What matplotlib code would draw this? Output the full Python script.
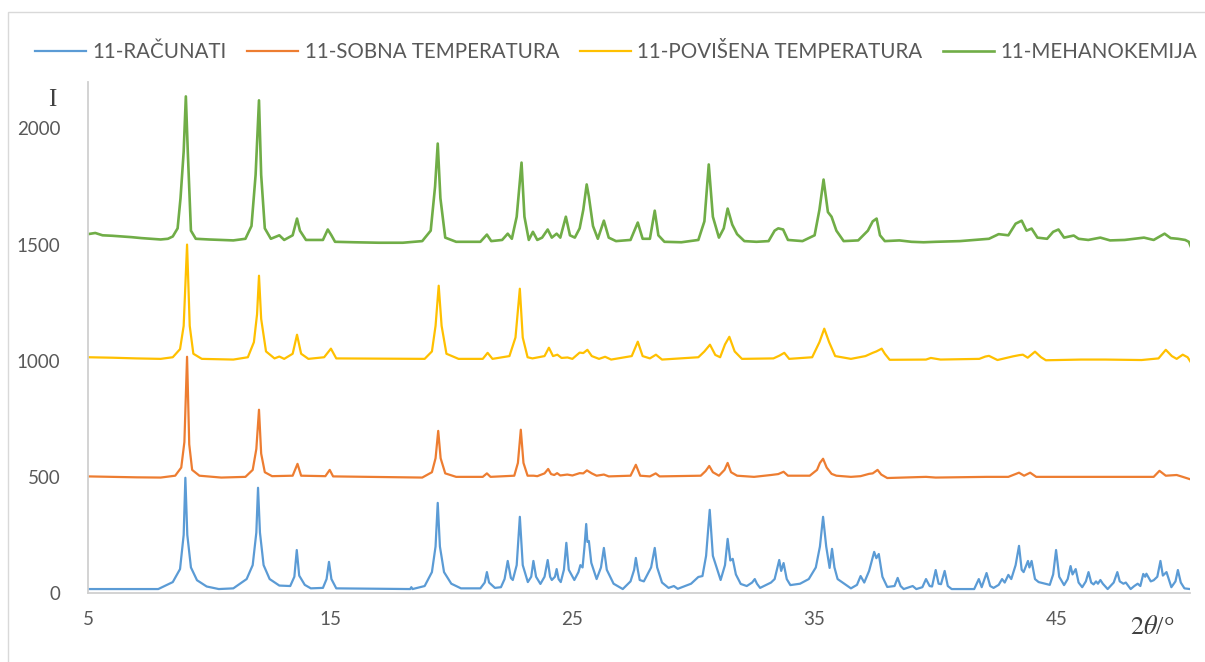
import matplotlib
matplotlib.use("Agg")
import matplotlib.pyplot as plt
from matplotlib.patches import Rectangle

plt.rcParams['font.family'] = ['Lato', 'DejaVu Sans']

# ---- data (2theta in degrees, intensity) ----
RAC_X = [5.0, 7.9, 8.5, 8.8, 8.95, 9.02, 9.1, 9.25, 9.5, 9.9, 10.4, 11.0, 11.55, 11.8, 11.95,
         12.02, 12.1, 12.25, 12.5, 12.9, 13.35, 13.52, 13.62, 13.72, 13.95, 14.2, 14.7, 14.85,
         14.95, 15.05, 15.25, 18.3, 18.35, 18.4, 18.9, 19.2, 19.35, 19.44, 19.53, 19.7, 20.0,
         20.4, 21.2, 21.38, 21.47, 21.56, 21.8, 22.05, 22.2, 22.33, 22.46, 22.54, 22.7, 22.83,
         22.95, 23.16, 23.3, 23.39, 23.5, 23.68, 23.85, 23.98, 24.08, 24.15, 24.28, 24.35, 24.43,
         24.52, 24.65, 24.75, 24.85, 25.08, 25.25, 25.33, 25.42, 25.5, 25.57, 25.62, 25.68, 25.78,
         26.0, 26.18, 26.3, 26.42, 26.7, 27.08, 27.4, 27.55, 27.62, 27.7, 27.78, 27.95, 28.25,
         28.4, 28.5, 28.7, 28.97, 29.19, 29.35, 29.9, 30.2, 30.37, 30.52, 30.67, 30.8, 31.12,
         31.3, 31.41, 31.52, 31.62, 31.75, 31.95, 32.2, 32.42, 32.53, 32.62, 32.75, 33.2, 33.35,
         33.54, 33.62, 33.72, 33.85, 34.0, 34.4, 34.76, 35.05, 35.22, 35.35, 35.48, 35.62, 35.72,
         35.82, 35.95, 36.5, 36.75, 36.9, 37.05, 37.25, 37.46, 37.55, 37.65, 37.8, 38.0, 38.3,
         38.43, 38.55, 38.68, 39.05, 39.2, 39.45, 39.6, 39.75, 39.85, 40.0, 40.12, 40.22, 40.37,
         40.5, 40.66, 41.59, 41.78, 41.9, 42.1, 42.25, 42.39, 42.6, 42.74, 42.85, 43.0, 43.12,
         43.3, 43.44, 43.55, 43.63, 43.81, 43.87, 43.96, 44.1, 44.25, 44.71, 44.85, 44.97, 45.1,
         45.3, 45.45, 45.57, 45.65, 45.78, 45.9, 46.05, 46.2, 46.31, 46.42, 46.52, 46.62, 46.7,
         46.8, 46.9, 47.1, 47.35, 47.5, 47.6, 47.75, 47.85, 48.05, 48.2, 48.34, 48.45, 48.57,
         48.65, 48.7, 48.88, 49.0, 49.15, 49.28, 49.38, 49.53, 49.73, 49.9, 50.0, 50.12, 50.27,
         50.5]
RAC_Y = [17, 17, 47, 103, 250, 496, 250, 110, 55, 28, 17, 20, 60, 120, 260,
         453, 260, 120, 60, 32, 30, 70, 185, 75, 35, 20, 22, 60,
         134, 60, 20, 17, 25, 17, 30, 90, 200, 388, 200, 90, 40,
         20, 20, 45, 90, 45, 22, 25, 60, 138, 65, 56, 120, 328,
         120, 47, 70, 138, 70, 39, 70, 142, 70, 56, 70, 103, 60,
         47, 100, 216, 100, 56, 90, 120, 110, 200, 297, 220, 224, 130,
         60, 110, 194, 100, 40, 17, 50, 100, 151, 100, 56, 50, 110,
         194, 110, 45, 22, 30, 18, 40, 69, 73, 160, 358, 160, 56,
         120, 233, 140, 147, 80, 39, 30, 45, 60, 40, 22, 45, 60,
         142, 95, 129, 60, 34, 40, 60, 110, 200, 328, 200, 108, 190,
         110, 60, 20, 35, 73, 45, 95, 177, 150, 168, 70, 26, 30,
         65, 30, 17, 30, 17, 25, 60, 30, 28, 99, 40, 38, 95,
         30, 17, 17, 60, 25, 86, 30, 22, 35, 60, 45, 78, 60,
         120, 203, 100, 90, 138, 110, 138, 60, 47, 35, 80, 185, 70,
         34, 60, 116, 80, 103, 45, 25, 50, 90, 45, 37, 50, 40,
         56, 40, 17, 45, 90, 50, 40, 45, 17, 30, 40, 30, 82,
         70, 83, 50, 55, 70, 138, 75, 90, 25, 50, 99, 45, 20,
         17]

SOB_X = [5.0, 6.0, 7.0, 8.0, 8.6, 8.85, 8.98, 9.09, 9.18, 9.3, 9.6, 10.5, 11.5, 11.8, 11.95,
         12.06, 12.15, 12.3, 12.6, 13.45, 13.65, 13.8, 14.8, 14.98, 15.12, 18.8, 19.2, 19.35,
         19.46, 19.56, 19.75, 20.2, 21.3, 21.47, 21.62, 22.6, 22.75, 22.87, 22.98, 23.15, 23.4,
         23.55, 23.85, 24.0, 24.12, 24.25, 24.37, 24.5, 24.79, 25.0, 25.3, 25.45, 25.6, 25.8,
         26.0, 26.3, 26.5, 27.4, 27.62, 27.8, 28.2, 28.44, 28.6, 30.3, 30.5, 30.65, 30.8, 31.05,
         31.28, 31.41, 31.55, 31.8, 32.5, 33.2, 33.5, 33.72, 33.9, 34.8, 35.1, 35.22, 35.35,
         35.5, 35.7, 35.9, 36.5, 36.9, 37.25, 37.4, 37.6, 37.75, 38.0, 39.6, 40.0, 42.1, 43.0,
         43.44, 43.65, 43.9, 44.15, 44.93, 47.5, 49.0, 49.24, 49.5, 49.95, 50.2, 50.5]
SOB_Y = [502, 500, 498, 497, 505, 540, 650, 1017, 640, 530, 505, 497, 500, 530, 620,
         789, 600, 520, 503, 505, 556, 505, 503, 530, 502, 497, 520, 580,
         698, 580, 515, 500, 500, 515, 500, 505, 560, 703, 560, 505, 505,
         503, 515, 534, 512, 508, 516, 506, 510, 506, 516, 515, 528, 515,
         505, 510, 502, 505, 552, 505, 502, 515, 502, 505, 525, 547, 520, 505,
         530, 560, 520, 505, 500, 508, 512, 522, 505, 505, 530, 560, 578,
         540, 513, 505, 500, 503, 513, 515, 530, 510, 495, 500, 497, 500, 500,
         518, 505, 518, 500, 500, 500, 500, 526, 505, 508, 500, 490]

POV_X = [5.0, 6.0, 7.0, 8.0, 8.5, 8.8, 8.95, 9.09, 9.2, 9.35, 9.7, 11.0, 11.6, 11.85, 11.98,
         12.06, 12.15, 12.35, 12.7, 12.9, 13.1, 13.45, 13.63, 13.8, 14.1, 14.75, 15.03, 15.25,
         18.9, 19.2, 19.35, 19.48, 19.6, 19.8, 20.3, 21.3, 21.5, 21.7, 22.4, 22.65, 22.83,
         22.95, 23.15, 23.35, 23.85, 24.03, 24.2, 24.38, 24.55, 24.8, 25.0, 25.3, 25.45, 25.62,
         25.8, 26.1, 26.35, 26.6, 27.45, 27.7, 27.9, 28.2, 28.45, 28.7, 30.2, 30.45, 30.68,
         30.9, 31.1, 31.3, 31.48, 31.7, 32.0, 33.3, 33.55, 33.75, 33.95, 34.9, 35.2, 35.4,
         35.6, 35.85, 36.5, 37.1, 37.4, 37.55, 37.77, 37.9, 38.1, 39.6, 39.8, 40.2, 41.8,
         42.05, 42.2, 42.55, 43.2, 43.45, 43.6, 43.8, 44.1, 44.35, 44.55, 46.0, 47.0, 48.5,
         49.2, 49.5, 49.75, 49.95, 50.2, 50.4, 50.55]
POV_Y = [1015, 1013, 1010, 1008, 1015, 1050, 1150, 1500, 1150, 1030, 1008, 1005, 1015, 1080, 1200,
         1366, 1180, 1040, 1010, 1018, 1008, 1030, 1112, 1030, 1008, 1015, 1052, 1010,
         1008, 1040, 1150, 1323, 1150, 1030, 1008, 1008, 1034, 1008, 1020, 1100, 1310,
         1100, 1015, 1010, 1020, 1056, 1020, 1026, 1012, 1014, 1008, 1035, 1033, 1047,
         1020, 1008, 1017, 1005, 1020, 1082, 1020, 1010, 1026, 1005, 1015, 1040, 1069,
         1025, 1015, 1070, 1103, 1040, 1008, 1010, 1022, 1034, 1008, 1015, 1080, 1138,
         1080, 1020, 1008, 1020, 1034, 1040, 1052, 1030, 1004, 1005, 1012, 1005, 1008,
         1018, 1021, 1003, 1019, 1024, 1026, 1013, 1039, 1015, 1002, 1005, 1005, 1003,
         1010, 1047, 1020, 1008, 1026, 1015, 991]

MEH_X = [5.0, 5.3, 5.6, 6.0, 6.4, 6.8, 7.2, 7.6, 8.0, 8.3, 8.5, 8.7, 8.82, 8.95, 9.04, 9.12,
         9.25, 9.45, 10.0, 10.5, 11.0, 11.5, 11.75, 11.92, 12.06, 12.15, 12.3, 12.55, 12.9,
         13.1, 13.45, 13.63, 13.75, 14.0, 14.7, 14.9, 15.05, 15.2, 16.0, 17.0, 18.0, 18.8,
         19.15, 19.33, 19.44, 19.55, 19.75, 20.2, 21.2, 21.47, 21.65, 22.1, 22.33, 22.5, 22.7,
         22.9, 23.02, 23.2, 23.37, 23.55, 23.75, 23.98, 24.15, 24.35, 24.5, 24.73, 24.9, 25.1,
         25.3, 25.45, 25.59, 25.68, 25.85, 26.05, 26.3, 26.5, 26.8, 27.4, 27.7, 27.9, 28.2,
         28.4, 28.55, 28.8, 29.5, 30.2, 30.45, 30.63, 30.8, 31.05, 31.25, 31.41, 31.6, 31.8,
         32.1, 32.6, 33.1, 33.35, 33.5, 33.7, 33.9, 34.5, 35.0, 35.2, 35.37, 35.55, 35.7,
         35.9, 36.2, 36.8, 37.2, 37.4, 37.56, 37.7, 37.9, 38.5, 39.0, 39.5, 40.0, 41.0, 41.6,
         42.2, 42.6, 43.0, 43.3, 43.55, 43.75, 43.96, 44.2, 44.6, 44.85, 45.07, 45.3, 45.7,
         45.9, 46.3, 46.8, 47.2, 47.8, 48.2, 48.6, 49.0, 49.25, 49.45, 49.7, 50.0, 50.3,
         50.45, 50.55]
MEH_Y = [1545, 1550, 1540, 1538, 1535, 1532, 1528, 1525, 1522, 1525, 1535, 1570, 1700, 1900, 2138, 1900,
         1560, 1525, 1522, 1520, 1518, 1525, 1580, 1800, 2121, 1800, 1570, 1525, 1540,
         1520, 1540, 1612, 1560, 1520, 1520, 1565, 1540, 1512, 1510, 1508, 1508, 1515,
         1560, 1750, 1935, 1700, 1530, 1512, 1512, 1543, 1515, 1520, 1547, 1525, 1620,
         1853, 1620, 1520, 1555, 1520, 1530, 1565, 1530, 1547, 1530, 1620, 1540, 1530,
         1570, 1650, 1759, 1707, 1580, 1525, 1603, 1530, 1515, 1520, 1595, 1525, 1525,
         1646, 1540, 1512, 1510, 1520, 1600, 1845, 1620, 1530, 1570, 1655, 1586, 1545,
         1515, 1512, 1515, 1560, 1570, 1565, 1520, 1515, 1540, 1650, 1780, 1640, 1620,
         1560, 1515, 1518, 1560, 1600, 1612, 1540, 1515, 1518, 1512, 1510, 1512, 1515, 1520,
         1525, 1545, 1540, 1590, 1603, 1560, 1569, 1530, 1525, 1555, 1565, 1530, 1539,
         1525, 1520, 1530, 1518, 1520, 1525, 1530, 1520, 1535, 1547, 1528, 1525, 1520,
         1512, 1487]

LABELS = ['11-RAČUNATI', '11-SOBNA TEMPERATURA', '11-POVIŠENA TEMPERATURA', '11-MEHANOKEMIJA']
COLORS = ['#5B9BD5', '#ED7D31', '#FFC000', '#70AD47']
X_TICKS = [5, 15, 25, 35, 45]
Y_TICKS = [0, 500, 1000, 1500, 2000]

W, H = 1205, 662
fig = plt.figure(figsize=(W / 100, H / 100), dpi=100)
fig.patches.append(Rectangle((8 / W, -0.1), 1.2, 1 - 12 / H + 0.1, transform=fig.transFigure,
                             fill=False, edgecolor='#D9D9D9', lw=1.0))

ax = fig.add_axes([88 / W, 69 / H, 1102 / W, 511 / H])
series = [(RAC_X, RAC_Y), (SOB_X, SOB_Y), (POV_X, POV_Y), (MEH_X, MEH_Y)]
handles = []
for (xs, ys), lab, col in zip(series, LABELS, COLORS):
    lw = 1.9 if lab.endswith('MEHANOKEMIJA') else 1.6
    h, = ax.plot(xs, ys, color=col, lw=lw, label=lab, solid_joinstyle='round')
    handles.append(h)

ax.set_xlim(5, 50.5)
ax.set_ylim(0, 2200)
ax.set_xticks(X_TICKS)
ax.set_yticks(Y_TICKS)
for s in ['top', 'right']:
    ax.spines[s].set_visible(False)
for s in ['left', 'bottom']:
    ax.spines[s].set_color('#D0D0D0')
    ax.spines[s].set_linewidth(1.3)
ax.tick_params(length=0, labelsize=13.5, labelcolor='#595959')
ax.tick_params(axis='y', pad=20)
ax.tick_params(axis='x', pad=13)

fig.text(52 / W, 1 - 100 / H, 'I', family=['Liberation Serif', 'DejaVu Serif'],
         fontsize=18, color='#404040', ha='center', va='center')
fig.text(1152 / W, 1 - 627 / H, r'$2\theta$/°', family=['Liberation Serif', 'DejaVu Serif'],
         fontsize=19, color='#404040', ha='center', va='center', math_fontfamily='stix')

fig.legend(handles=handles, loc='center', bbox_to_anchor=(616 / W, 1 - 52 / H), ncol=4,
           frameon=False, fontsize=14.8, labelcolor='#595959', handlelength=2.5,
           handletextpad=0.3, columnspacing=1.0)

fig.savefig('out.png', dpi=100)
